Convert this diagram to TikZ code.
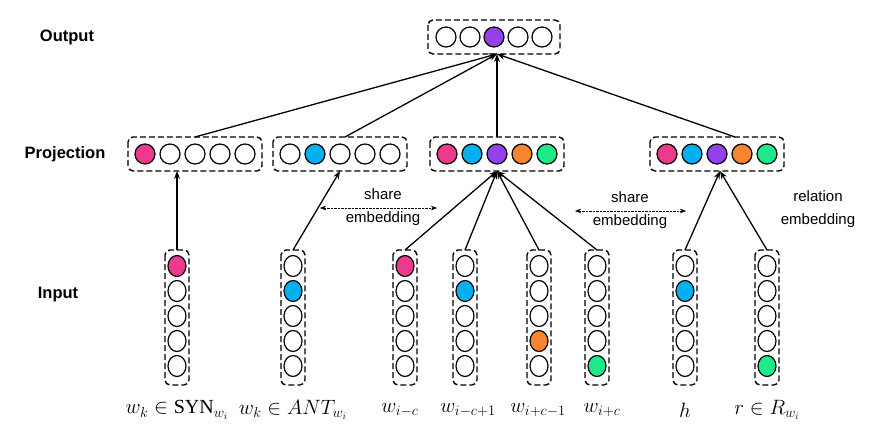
\documentclass[tikz,border=0pt]{standalone}
\usepackage{fontspec}
\setmainfont{Liberation Sans}
\newfontfamily\serifm{Liberation Serif}
\usetikzlibrary{arrows.meta,shapes.geometric}
\definecolor{cpk}{HTML}{EE3A8C}
\definecolor{cbl}{HTML}{00B0F0}
\definecolor{cpu}{HTML}{9440ED}
\definecolor{cor}{HTML}{F8862F}
\definecolor{cgr}{HTML}{1DEB8A}
\begin{document}
\begin{tikzpicture}[x=1pt,y=-1pt,
  c/.style={circle,draw,line width=1.2pt,minimum size=20pt,inner sep=0pt},
  e/.style={ellipse,draw,line width=1.2pt,minimum width=18pt,minimum height=21pt,inner sep=0pt},
  box/.style={draw,dash pattern=on 6pt off 3pt,line width=1.4pt,rounded corners=5pt},
  arr/.style={-{Stealth[length=8pt,width=6pt]},line width=1.3pt},
  lab/.style={font=\bfseries\fontsize{16.5}{19}\selectfont},
  sm/.style={font=\fontsize{15}{18}\selectfont,align=center}]
\useasboundingbox (0,0) rectangle (873,441);
\node[lab] at (67,37) {Output};
\node[lab] at (65,154) {Projection};
\node[lab] at (58,295) {Input};
% output
\draw[box] (428,20) rectangle (560,54);
\foreach \i/\f in {0/white,1/white,2/cpu,3/white,4/white}
  \node[c,fill=\f] at (446+24*\i,37) {};
\coordinate (out) at (497,54);
% projection boxes
\newcommand{\pbox}[6]{%
  \draw[box] (#1-17,137) rectangle (#1+117,171);
  \foreach \f [count=\j from 0] in {#2,#3,#4,#5,#6}
    \node[c,fill=\f] at (#1+25*\j,154) {};}
\pbox{145}{cpk}{white}{white}{white}{white}
\pbox{290}{white}{cbl}{white}{white}{white}
\pbox{447}{cpk}{cbl}{cpu}{cor}{cgr}
\pbox{667}{cpk}{cbl}{cpu}{cor}{cgr}
\coordinate (p1t) at (195,137); \coordinate (p2t) at (345,137);
\coordinate (p3t) at (497,137); \coordinate (p4t) at (735,137);
\coordinate (p1b) at (177,171); \coordinate (p2b) at (340,171);
\coordinate (p3b) at (497,171); \coordinate (p4b) at (720,171);
\foreach \p in {p1t,p2t,p3t,p4t} \draw[arr] (\p) -- (out);
% input columns
\newcommand{\ibox}[3]{%
  \draw[box] (#1-12,250) rectangle (#1+12,385);
  \foreach \k in {0,...,4}{
    \ifnum\k=#2 \node[e,fill=#3] at (#1,266+25*\k) {};
    \else \node[e,fill=white] at (#1,266+25*\k) {};\fi}
  \coordinate (in#1) at (#1,250);}
\ibox{177}{0}{cpk}
\ibox{293}{1}{cbl}
\ibox{405}{0}{cpk}
\ibox{465}{1}{cbl}
\ibox{539}{3}{cor}
\ibox{597}{4}{cgr}
\ibox{685}{1}{cbl}
\ibox{767}{4}{cgr}
\draw[arr] (in177) -- (p1b);
\draw[arr] (in293) -- (p2b);
\foreach \x in {405,465,539,597} \draw[arr] (in\x) -- (p3b);
\draw[arr] (in685) -- (p4b);
\draw[arr] (in767) -- (p4b);
% share embedding
\coordinate (s1a) at (320,208); \coordinate (s1b) at (437,208);
\draw[densely dotted,{Stealth[length=6pt]}-{Stealth[length=6pt]}] (s1a) -- (s1b);
\node[sm] at (383,194) {share}; \node[sm] at (383,219) {embedding};
\coordinate (s2a) at (575,211); \coordinate (s2b) at (686,211);
\draw[densely dotted,{Stealth[length=6pt]}-{Stealth[length=6pt]}] (s2a) -- (s2b);
\node[sm] at (630,197) {share}; \node[sm] at (630,222) {embedding};
\node[sm] at (818,196) {relation}; \node[sm] at (818,221) {embedding};
% labels
\tikzset{ml/.style={font=\fontsize{20}{22}\selectfont}}
\node[ml] at (177,410) {$w_k\in \hbox{\serifm SYN}_{w_i}$};
\node[ml] at (293,410) {$w_k\in ANT_{w_i}$};
\node[ml] at (400,410) {$w_{i-c}$};
\node[ml] at (468,410) {$w_{i-c+1}$};
\node[ml] at (538,410) {$w_{i+c-1}$};
\node[ml] at (602,410) {$w_{i+c}$};
\node[ml] at (685,410) {$h$};
\node[ml] at (767,410) {$r\in R_{w_i}$};
\end{tikzpicture}
\end{document}
